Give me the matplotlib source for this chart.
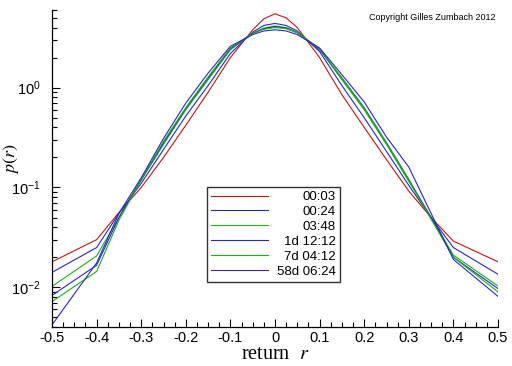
import numpy as np
import matplotlib
matplotlib.use("Agg")
import matplotlib.pyplot as plt
from matplotlib.ticker import MultipleLocator, LogLocator, FixedLocator, FixedFormatter

plt.rcParams['font.family'] = ['Liberation Sans', 'DejaVu Sans']
plt.rcParams['mathtext.fontset'] = 'custom'
plt.rcParams['mathtext.rm'] = 'Liberation Sans'
plt.rcParams['mathtext.it'] = 'Liberation Sans:italic'
plt.rcParams['axes.unicode_minus'] = False

# return grid
r = [-0.5, -0.4, -0.35, -0.3, -0.25, -0.2, -0.15, -0.1, -0.05, -0.025, 0.0,
     0.025, 0.05, 0.1, 0.15, 0.2, 0.25, 0.3, 0.35, 0.4, 0.5]

p_0003 = [0.018, 0.030, 0.056, 0.10, 0.20, 0.42, 0.90, 2.0, 3.8, 4.9, 5.5,
          5.0, 4.0, 2.0, 0.85, 0.40, 0.19, 0.092, 0.050, 0.029, 0.018]
p_0024 = [0.0141, 0.025, 0.055, 0.11, 0.24, 0.52, 1.05, 2.2, 3.6, 4.2, 4.4,
          4.2, 3.7, 2.3, 1.05, 0.50, 0.23, 0.105, 0.050, 0.025, 0.0135]
p_0348 = [0.0102, 0.0206, 0.050, 0.118, 0.27, 0.60, 1.2, 2.4, 3.5, 3.95, 4.15,
          4.0, 3.6, 2.45, 1.2, 0.60, 0.27, 0.115, 0.050, 0.021, 0.0103]
p_1d = [0.0083, 0.0166, 0.050, 0.12, 0.28, 0.62, 1.25, 2.45, 3.5, 3.9, 4.1,
        3.95, 3.55, 2.4, 1.25, 0.63, 0.28, 0.12, 0.050, 0.020, 0.0097]
p_7d = [0.0072, 0.0144, 0.047, 0.12, 0.29, 0.63, 1.28, 2.5, 3.5, 3.85, 4.0,
        3.9, 3.55, 2.45, 1.25, 0.62, 0.28, 0.12, 0.048, 0.020, 0.0090]
p_58d = [0.0042, 0.0175, 0.055, 0.125, 0.31, 0.70, 1.4, 2.6, 3.4, 3.7, 3.8,
         3.7, 3.4, 2.5, 1.35, 0.72, 0.32, 0.16, 0.055, 0.019, 0.0081]

series = [p_0003, p_0024, p_0348, p_1d, p_7d, p_58d]
labels = ['00:03', '00:24', '03:48', '1d 12:12', '7d 04:12', '58d 06:24']
colors = ['#c81414', '#2828c8', '#14b414', '#2828c8', '#14b414', '#2828c8']

xticks = [-0.5, -0.4, -0.3, -0.2, -0.1, 0.0, 0.1, 0.2, 0.3, 0.4, 0.5]
xtick_labels = ['-0.5', '-0.4', '-0.3', '-0.2', '-0.1', '0', '0.1', '0.2', '0.3', '0.4', '0.5']

fig = plt.figure(figsize=(5.12, 3.66), dpi=100)
ax = fig.add_axes([52/512, 1-327/366, 446/512, 317/366])

for vals, lab, c in zip(series, labels, colors):
    ax.plot(r, vals, color=c, lw=0.8, label=lab)

ax.set_yscale('log')
ax.set_xlim(-0.5, 0.5)
ax.set_ylim(0.004, 6)

for s in ['top', 'right']:
    ax.spines[s].set_visible(False)
for s in ['left', 'bottom']:
    ax.spines[s].set_linewidth(0.9)

ax.xaxis.set_major_locator(FixedLocator(xticks))
ax.xaxis.set_major_formatter(FixedFormatter(xtick_labels))
ax.xaxis.set_minor_locator(MultipleLocator(0.025))
ax.yaxis.set_major_locator(LogLocator(base=10, numticks=10))
ax.yaxis.set_minor_locator(LogLocator(base=10, subs=np.arange(2, 10), numticks=10))

ax.tick_params(which='both', direction='in', labelsize=10.5, top=False, right=False)
ax.tick_params(which='major', length=6, width=0.8)
ax.tick_params(which='minor', length=3.5, width=0.8)
ax.tick_params(axis='x', pad=3)
ax.tick_params(axis='y', pad=8)

ax.set_xlabel('return  $r$', fontsize=14.5, family='Liberation Serif', labelpad=0)
ax.set_ylabel('$p(r)$', fontsize=13, family='Liberation Serif')
ax.xaxis.label.set_math_fontfamily('stix')
ax.yaxis.label.set_math_fontfamily('stix')
ax.yaxis.set_label_coords(-0.07, 0.53)

fig.text(432/512, 1-18/366, 'Copyright Gilles Zumbach 2012', fontsize=6.5,
         ha='center', va='center')

leg = ax.legend(loc='upper left', bbox_to_anchor=((207-52)/446, (327-187)/317),
                fontsize=9.5, handlelength=4.3, handletextpad=0.7, labelspacing=0.2,
                borderaxespad=0, borderpad=0.3, frameon=True, fancybox=False)
leg.get_frame().set_edgecolor('black')
leg.get_frame().set_linewidth(1.0)

# right-align the legend labels
renderer = fig.canvas.get_renderer()
widths = [t.get_window_extent(renderer).width for t in leg.get_texts()]
for t, w in zip(leg.get_texts(), widths):
    t.set_position((max(widths) - w, 0))

fig.savefig('out.png', dpi=100)
